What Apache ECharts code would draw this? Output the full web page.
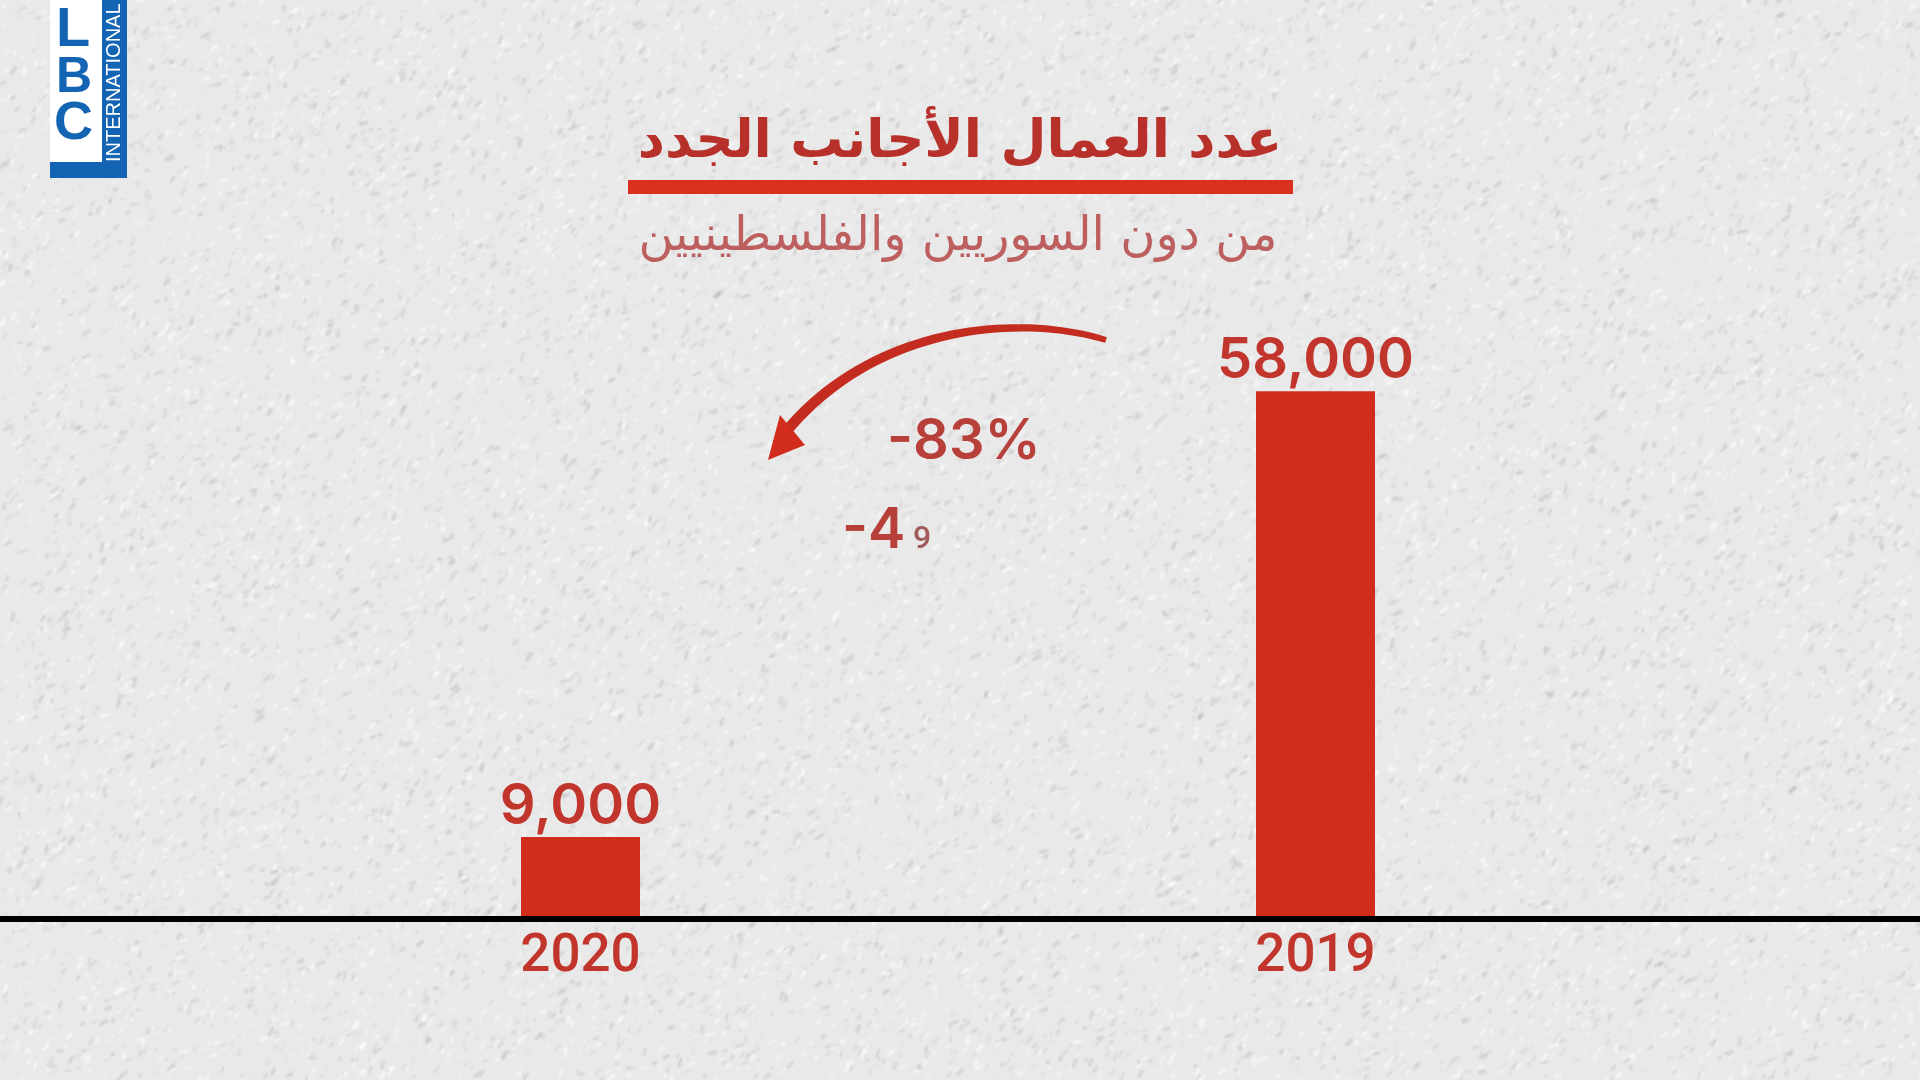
<!DOCTYPE html>
<html>
<head>
<meta charset="utf-8">
<title>عدد العمال الأجانب الجدد</title>
<script src="https://cdn.jsdelivr.net/npm/echarts@6/dist/echarts.min.js"></script>
<style>
    html, body {
        margin: 0;
        padding: 0;
        background-color: #ebebeb;
    }

    #main {
        width: 1920px;
        height: 1080px;
    }
</style>
</head>
<body>
<div id="main"></div>
<script>
    var categories = ['2020', '2019'];
    var workerCounts = [9000, 58000];
    var titleText = 'عدد العمال الأجانب الجدد';
    var subtitleText = 'من دون السوريين والفلسطينيين';
    var changeText = '-83%';
    var partialText = '-4';
    var partialDigit = '9';

    var RED = '#d22c1c';
    var TEXT_RED = '#c2352c';
    var BLUE = '#1464b4';
    var NUM_FONT = 'Inter';
    var YEAR_FONT = 'Roboto';

    // paper grain for the backdrop, a fixed sequence so every run looks the same
    // drawn small and scaled up, that softens it without a slow blur filter
    function paperTexture() {
        var small = document.createElement('canvas');
        small.width = 960;
        small.height = 540;
        var sc = small.getContext('2d');
        sc.fillStyle = '#e9e9e9';
        sc.fillRect(0, 0, 960, 540);
        var seed = 1234;
        function next() {
            seed = (seed * 16807) % 2147483647;
            return seed / 2147483647;
        }
        sc.lineCap = 'round';
        for (var i = 0; i < 20000; i++) {
            var x = next() * 960, y = next() * 540;
            var dark = next() < 0.5;
            sc.strokeStyle = dark ? 'rgba(175,175,175,' + (0.1 + next() * 0.28) + ')' : 'rgba(255,255,255,' + (0.2 + next() * 0.4) + ')';
            sc.lineWidth = 0.6 + next() * 1.4;
            var len = 0.5 + next() * 3;
            var ang = next() * 1.2 + 0.2;
            sc.beginPath();
            sc.moveTo(x, y);
            sc.lineTo(x + len * Math.cos(ang), y - len * Math.sin(ang));
            sc.stroke();
        }
        var cv = document.createElement('canvas');
        cv.width = 1920;
        cv.height = 1080;
        var ctx = cv.getContext('2d');
        ctx.imageSmoothingEnabled = true;
        ctx.imageSmoothingQuality = 'high';
        ctx.drawImage(small, 0, 0, 1920, 1080);
        return cv;
    }

    // arrow body, a cubic curve that gets thicker towards the head
    function arrowBody(p0, p1, p2, p3, w0, w1) {
        var top = [], bottom = [];
        for (var i = 0; i <= 40; i++) {
            var t = i / 40, u = 1 - t;
            var x = u * u * u * p0[0] + 3 * u * u * t * p1[0] + 3 * u * t * t * p2[0] + t * t * t * p3[0];
            var y = u * u * u * p0[1] + 3 * u * u * t * p1[1] + 3 * u * t * t * p2[1] + t * t * t * p3[1];
            var dx = 3 * u * u * (p1[0] - p0[0]) + 6 * u * t * (p2[0] - p1[0]) + 3 * t * t * (p3[0] - p2[0]);
            var dy = 3 * u * u * (p1[1] - p0[1]) + 6 * u * t * (p2[1] - p1[1]) + 3 * t * t * (p3[1] - p2[1]);
            var len = Math.sqrt(dx * dx + dy * dy);
            var w = (w0 + (w1 - w0) * t) / 2;
            top.push([x - dy / len * w, y + dx / len * w]);
            bottom.push([x + dy / len * w, y - dx / len * w]);
        }
        return top.concat(bottom.reverse());
    }

    var myChart = echarts.init(document.getElementById('main'), null, {renderer: 'canvas'});

    myChart.setOption({
        animation: false,
        backgroundColor: {image: paperTexture(), repeat: 'no-repeat'},
        title: [
            {
                text: titleText,
                left: 955,
                top: 112,
                textAlign: 'center',
                textStyle: {fontFamily: 'DejaVu Sans', fontSize: 53, fontWeight: 'bold', color: '#b8302a'}
            },
            {
                text: subtitleText,
                left: 953,
                top: 209,
                textAlign: 'center',
                textStyle: {fontFamily: 'DejaVu Sans', fontSize: 48, fontWeight: 'normal', color: '#bd5f5f'}
            }
        ],
        grid: [
            {left: 213, width: 1470, top: 373, bottom: 161},
            {left: 0, width: 1920, top: 373, bottom: 161}
        ],
        xAxis: [
            {
                type: 'category',
                gridIndex: 0,
                data: categories,
                axisLine: {show: false},
                axisTick: {show: false},
                axisLabel: {
                    margin: 12,
                    fontFamily: YEAR_FONT,
                    fontSize: 53,
                    fontWeight: 500,
                    color: TEXT_RED
                }
            },
            {
                type: 'category',
                gridIndex: 1,
                data: [],
                z: 10,
                axisLine: {show: true, lineStyle: {color: '#000000', width: 6}},
                axisTick: {show: false},
                axisLabel: {show: false}
            }
        ],
        yAxis: [
            {type: 'value', gridIndex: 0, min: 0, max: 60000, show: false},
            {type: 'value', gridIndex: 1, min: 0, max: 60000, show: false}
        ],
        series: [{
            type: 'bar',
            xAxisIndex: 0,
            yAxisIndex: 0,
            data: workerCounts,
            barWidth: 119,
            z: 5,
            itemStyle: {color: RED},
            label: {
                show: true,
                position: 'top',
                distance: 0,
                offset: [0, -2],
                fontFamily: NUM_FONT,
                fontSize: 56,
                fontWeight: 600,
                color: TEXT_RED,
                formatter: function (p) {
                    return p.value.toLocaleString('en-US');
                }
            }
        }],
        graphic: [
            // logo
            {type: 'rect', shape: {x: 50, y: 0, width: 52, height: 163}, style: {fill: '#ffffff'}},
            {type: 'rect', shape: {x: 102, y: 0, width: 25, height: 178}, style: {fill: BLUE}},
            {type: 'rect', shape: {x: 50, y: 162, width: 77, height: 16}, style: {fill: BLUE}},
            {type: 'text', x: 56, y: 3, style: {text: 'L', font: 'bold 56px "Liberation Sans"', fill: BLUE}},
            {type: 'text', x: 56, y: 53, style: {text: 'B', font: 'bold 50px "Liberation Sans"', fill: BLUE}},
            {type: 'text', x: 54, y: 97, style: {text: 'C', font: 'bold 54px "Liberation Sans"', fill: BLUE}},
            {
                type: 'text', x: 104, y: 162, rotation: Math.PI / 2,
                style: {text: 'INTERNATIONAL', font: '20px "Liberation Sans Narrow", "Liberation Sans"', fill: '#ffffff'}
            },
            // title rule
            {type: 'rect', z: 3, shape: {x: 628, y: 180, width: 665, height: 14}, style: {fill: '#d9301f'}},
            // curved arrow
            {
                type: 'polygon', z: 3,
                shape: {points: arrowBody([1106, 340], [1015, 312], [870, 328], [785, 433], 6, 11)},
                style: {fill: '#c42c20'}
            },
            {
                type: 'polygon', z: 3,
                shape: {points: [[768, 460], [780, 415], [805, 445]]},
                style: {fill: '#d22c1c'}
            },
            // change labels
            {
                type: 'text', z: 3, x: 887, y: 414,
                style: {text: changeText, font: '600 56px ' + NUM_FONT, fill: '#b8403a'}
            },
            {
                type: 'text', z: 3, x: 842, y: 503,
                style: {text: partialText, font: '600 56px ' + NUM_FONT, fill: '#b8403a'}
            },
            {
                type: 'text', z: 3, x: 913, y: 524,
                style: {text: partialDigit, font: '500 32px ' + YEAR_FONT, fill: '#a05a58'}
            }
        ]
    });
</script>
</body>
</html>
